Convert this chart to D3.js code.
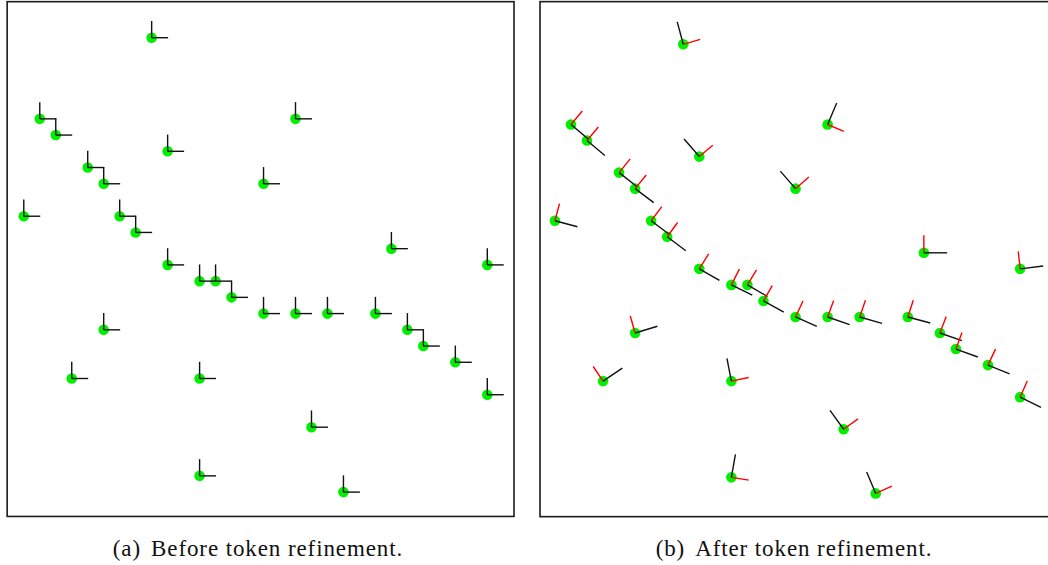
<!DOCTYPE html>
<html>
<head>
<meta charset="utf-8">
<script src="https://cdn.jsdelivr.net/npm/d3@7"></script>
<style>
  html, body { margin: 0; padding: 0; background: #fff; }
  svg { display: block; }
</style>
</head>
<body>
<svg id="fig" width="1048" height="565"></svg>
<script>
// Token grid positions (column, row) shared by both panels
const tokenCols = [9, 2, 3, 18, 10, 5, 6, 16, 1, 7, 8, 24, 10, 30, 12, 13, 14, 16, 18, 20, 23, 25, 26, 28, 30, 6, 4, 12, 19, 12, 21];
const tokenRows = [0, 5, 6, 5, 7, 8, 9, 9, 11, 11, 12, 13, 14, 14, 15, 15, 16, 17, 17, 17, 17, 18, 19, 20, 22, 18, 21, 21, 24, 27, 28];

// Orientation before refinement (degrees, counter-clockwise from +x)
const initialTangentDeg = 0;
const initialNormalDeg = 90;

// Orientation after refinement (degrees)
const refinedTangentDeg = [105, -40, -40, 67, 131, -38, -37, 131, -15, -37, -37, 0, -30, 7, -26, -30, -29, -24, -19, -16, -15, -19, -20, -22, -26, 17, 34, 101, 126, 80, 113];
const refinedNormalDeg  = [16, 50, 50, -23, 40, 51, 51, 41, 75, 53, 54, 90, 58, 96, 63, 59, 60, 65, 70, 71, 72, 69, 70, 65, 66, 106, 124, 12, 36, -9, 24];

const captions = ["(a)", "Before token refinement.", "(b)", "After token refinement."];

const tokens = tokenCols.map((c, i) => ({
  c, r: tokenRows[i],
  t0: initialTangentDeg, n0: initialNormalDeg,
  t1: refinedTangentDeg[i], n1: refinedNormalDeg[i]
}));

const svg = d3.select("#fig");
const rad = Math.PI / 180;

function drawPanel(opts) {
  const x = d3.scaleLinear().domain([0, 30]).range(opts.xRange);
  const y = d3.scaleLinear().domain([0, 28]).range(opts.yRange);
  const g = svg.append("g");

  // frame
  g.append("rect")
    .attr("x", x(opts.frameX[0])).attr("y", y(opts.frameY[0]))
    .attr("width", x(opts.frameX[1]) - x(opts.frameX[0]))
    .attr("height", y(opts.frameY[1]) - y(opts.frameY[0]))
    .attr("fill", "none").attr("stroke", "#1a1a1a").attr("stroke-width", 1.6);

  // token centres
  g.selectAll("circle").data(tokens).join("circle")
    .attr("cx", d => x(d.c)).attr("cy", d => y(d.r))
    .attr("r", 5.3).attr("fill", "#00f000");

  // orientation sticks
  const stick = (cls, angle, len, color) => {
    g.selectAll("line." + cls).data(tokens).join("line")
      .attr("class", cls)
      .attr("x1", d => x(d.c)).attr("y1", d => y(d.r))
      .attr("x2", d => x(d.c + len * Math.cos(angle(d) * rad)))
      .attr("y2", d => y(d.r - len * Math.sin(angle(d) * rad)))
      .attr("stroke", color).attr("stroke-width", 1.4);
  };
  stick("tan", opts.tangent, opts.tanLen, "#111");
  stick("nrm", opts.normal, opts.nrmLen, opts.normalColor);

  // caption
  const cap = svg.append("text")
    .attr("x", opts.captionX).attr("y", 556)
    .attr("text-anchor", "middle")
    .attr("font-family", "'Liberation Serif', 'DejaVu Serif', serif")
    .attr("font-size", 23).attr("letter-spacing", 0.9).attr("fill", "#111");
  cap.append("tspan").text(opts.label);
  cap.append("tspan").attr("dx", 10).text(opts.caption);
}

drawPanel({
  xRange: [7.8, 487.3], yRange: [37.7, 492.1],
  frameX: [-0.04, 31.67], frameY: [-2.22, 29.5],
  tangent: d => d.t0, normal: d => d.n0,
  tanLen: 1.03, nrmLen: 1.03, normalColor: "#111",
  captionX: 258, label: captions[0], caption: captions[1]
});

drawPanel({
  xRange: [538.9, 1020.1], yRange: [44.3, 493.4],
  frameX: [0.07, 32.3], frameY: [-2.66, 29.45],
  tangent: d => d.t1, normal: d => d.n1,
  tanLen: 1.45, nrmLen: 1.1, normalColor: "#ff0000",
  captionX: 794, label: captions[2], caption: captions[3]
});
</script>
</body>
</html>
